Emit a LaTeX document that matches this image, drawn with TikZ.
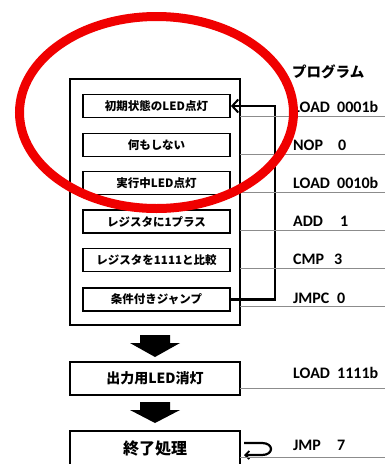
\documentclass[tikz,border=0pt]{standalone}
\usepackage{fontspec}
\newfontfamily\jp{Noto Sans CJK JP}
\newfontfamily\lat{Carlito}
\usetikzlibrary{arrows.meta}
\definecolor{ringred}{RGB}{240,0,0}
\definecolor{rulegray}{RGB}{140,140,140}
\tikzset{
  stepbox/.style={draw, line width=1.8pt, minimum width=147pt, minimum height=23pt, inner sep=0pt,
    font=\jp\bfseries\fontsize{11.5}{13}\selectfont},
  bigbox/.style={draw, line width=2.2pt, minimum width=170pt, inner sep=0pt},
  prog/.style={anchor=base west, inner sep=0pt, font=\lat\bfseries\fontsize{16}{18}\selectfont},
  rule/.style={draw=rulegray, line width=0.9pt},
  fat/.style={fill=black},
  conn/.style={line width=2.2pt}
}
\begin{document}
\begin{tikzpicture}[x=1pt,y=-1pt]
\useasboundingbox (0,0) rectangle (385,464);
\clip (0,0) rectangle (385,464);
\fill[white] (0,0) rectangle (385,464);

% outer loop box
\node[draw, line width=2pt, minimum width=170pt, minimum height=246pt, inner sep=0pt] (outer) at (155,202) {};

% inner steps
\node[stepbox] (b1) at (156.5,106) {初期状態のLED点灯};
\node[stepbox] (b2) at (156.5,145) {何もしない};
\node[stepbox] (b3) at (156.5,183) {実行中LED点灯};
\node[stepbox] (b4) at (156.5,221.5) {レジスタに1プラス};
\node[stepbox] (b5) at (156.5,260) {レジスタを1111と比較};
\node[stepbox] (b6) at (156.5,299.5) {条件付きジャンプ};

% feedback connector
\coordinate (fb) at (275,106);
\draw[conn, -{Straight Barb[length=6pt,width=13pt,line width=2pt]}] (b6.east) -| (fb) -- (b1.east);

% lower boxes
\node[bigbox, minimum height=33pt, font=\jp\bfseries\fontsize{14}{16}\selectfont] (b7) at (155,378.5) {出力用LED消灯};
\node[bigbox, minimum height=36pt, font=\jp\bfseries\fontsize{16}{18}\selectfont] (b8) at (155,449) {終了処理};

% fat arrows
\fill[fat] (140,335) -- (170,335) -- (170,343) -- (180,343) -- (155,357) -- (130,343) -- (140,343) -- cycle;
\fill[fat] (140,402) -- (170,402) -- (170,410) -- (180,410) -- (155,423) -- (130,410) -- (140,410) -- cycle;

% self loop on end
\coordinate (s1) at (244,443);
\coordinate (s2) at (244,455);
\draw[conn, -{Straight Barb[length=4pt,width=8pt,line width=1.8pt]}] (s1) -- (262,443) .. controls (274,443) and (274,455) .. (262,455) -- (s2);

% program column
\node[anchor=base west, inner sep=0pt, font=\jp\bfseries\fontsize{14.5}{16}\selectfont] (title) at (292,77) {プログラム};

\foreach \y in {116,154,192,230,268,306,388,457} {
  \draw[rule] (240,\y) -- (385,\y);
}

\node[prog] (p1) at (293,112) {LOAD};  \node[prog] (q1) at (337,112) {0001b};
\node[prog] (p2) at (293,150) {NOP};   \node[prog] (q2) at (338,150) {0};
\node[prog] (p3) at (293,188) {LOAD};  \node[prog] (q3) at (337,188) {0010b};
\node[prog] (p4) at (293,226) {ADD};   \node[prog] (q4) at (340,226) {1};
\node[prog] (p5) at (293,264) {CMP};   \node[prog] (q5) at (334,264) {3};
\node[prog] (p6) at (293,303) {JMPC};  \node[prog] (q6) at (337,303) {0};
\node[prog] (p7) at (293,378) {LOAD};  \node[prog] (q7) at (337,378) {1111b};
\node[prog] (p8) at (293,450) {JMP};   \node[prog] (q8) at (337,450) {7};

% red annotation ring
\draw[ringred, line width=9pt] (156.5,112.5) ellipse [x radius=137pt, y radius=96pt];
\end{tikzpicture}
\end{document}
